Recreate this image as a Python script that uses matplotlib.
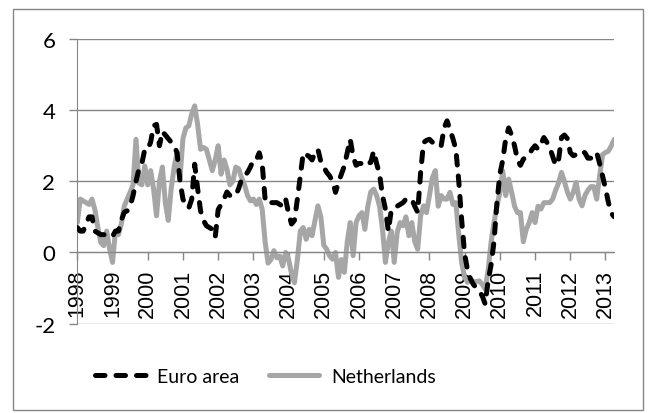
import matplotlib
matplotlib.use("Agg")
import matplotlib.pyplot as plt
from matplotlib.patches import Rectangle

# monthly values, Jan 1998 .. Apr 2013
euro_area = [
    0.7, 0.6, 0.6, 0.8, 1.0, 1.0, 0.6, 0.55, 0.5, 0.5, 0.5, 0.5,
    0.45, 0.6, 0.6, 0.9, 1.13, 1.17, 1.3, 1.6, 2.0, 2.34, 2.5, 2.9,
    2.9, 3.1, 3.56, 3.6, 3.0, 3.4, 3.3, 3.2, 3.1, 3.0, 2.8, 2.0,
    1.5, 1.3, 1.25, 1.5, 2.48, 1.8, 1.17, 0.9, 0.75, 0.7, 0.65, 0.43,
    1.2, 1.35, 1.5, 1.7, 1.6, 1.6, 1.6, 1.8, 2.06, 2.15, 2.25, 2.4,
    2.6, 2.6, 2.8, 2.5, 1.5, 1.36, 1.4, 1.4, 1.4, 1.35, 1.3, 1.5,
    1.1, 0.8, 0.9, 1.5, 2.15, 2.8, 2.75, 2.7, 2.6, 2.8, 2.9, 2.55,
    2.4, 2.25, 2.15, 2.0, 1.69, 1.97, 2.2, 2.43, 2.8, 3.18, 2.7, 2.45,
    2.5, 2.5, 2.43, 2.5, 2.53, 2.85, 2.5, 2.2, 1.6, 1.22, 0.6, 1.2,
    1.25, 1.3, 1.35, 1.4, 1.5, 1.5, 1.5, 1.3, 1.13, 2.25, 3.09, 3.15,
    3.18, 3.1, 3.12, 3.1, 3.0, 3.5, 3.7, 3.45, 3.2, 2.9, 2.0, 0.9,
    -0.05, -0.5, -0.75, -0.9, -1.0, -1.1, -1.22, -1.45, -0.8, -0.35, 0.3, 1.4,
    2.2, 2.6, 3.2, 3.5, 3.3, 3.0, 2.6, 2.45, 2.62, 2.7, 2.76, 2.9,
    3.0, 2.9, 3.05, 3.23, 3.1, 2.95, 2.7, 2.45, 2.6, 3.23, 3.3, 3.2,
    2.81, 2.72, 2.75, 2.81, 2.85, 2.8, 2.65, 2.65, 2.75, 2.81, 2.5, 2.15,
    1.8, 1.4, 1.1, 1.0,
]
netherlands = [
    0.84, 1.5, 1.45, 1.4, 1.35, 1.5, 1.2, 0.7, 0.28, 0.19, 0.6, 0.1,
    -0.28, 0.6, 0.5, 0.8, 1.3, 1.5, 1.69, 1.9, 3.18, 1.95, 1.9, 2.43,
    1.9, 2.3, 1.78, 1.03, 2.0, 2.4, 1.4, 0.9, 1.8, 2.4, 2.8, 2.1,
    3.2, 3.5, 3.56, 3.9, 4.12, 3.6, 2.9, 2.95, 2.9, 2.6, 2.3, 2.6,
    3.0, 2.2, 2.6, 2.34, 1.9, 2.0, 2.4, 2.35, 2.1, 1.9, 1.6, 1.45,
    1.5, 1.35, 1.5, 1.22, 0.3, -0.3, -0.2, 0.05, -0.15, -0.1, -0.38, 0.0,
    -0.19, -0.6, -0.85, -0.2, 0.6, 0.7, 0.37, 0.65, 0.47, 0.9, 1.31, 1.0,
    0.2, 0.09, -0.1, -0.19, 0.0, -0.7, -0.2, -0.56, 0.3, 0.84, -0.09, 0.84,
    1.03, 1.12, 0.65, 1.3, 1.7, 1.78, 1.6, 1.3, 0.65, -0.28, 0.28, 0.6,
    -0.28, 0.56, 0.84, 0.75, 1.0, 0.47, 0.84, 0.3, 0.09, 1.03, 1.31, 1.12,
    1.6, 2.1, 2.3, 1.3, 1.6, 1.5, 1.5, 1.69, 1.35, 1.4, 0.5, -0.3,
    -0.7, -0.84, -0.75, -0.82, -0.82, -0.8, -0.9, -1.03, -0.5, 0.28, 0.84, 1.3,
    1.69, 2.29, 1.6, 2.06, 1.7, 1.3, 1.12, 1.12, 0.3, 0.65, 0.84, 1.12,
    0.84, 1.3, 1.22, 1.4, 1.4, 1.4, 1.5, 1.75, 1.95, 2.25, 2.0, 1.7,
    1.5, 1.69, 1.97, 1.5, 1.31, 1.6, 1.75, 1.85, 1.85, 1.5, 2.15, 2.75,
    2.81, 2.85, 3.0, 3.18,
]
years = list(range(1998, 2014))
y_ticks = [-2, 0, 2, 4, 6]

months = list(range(len(euro_area)))
grid_col = "#868686"

fig = plt.figure(figsize=(6.48, 4.14), dpi=100)
# chart border
fig.patches.append(Rectangle((13 / 648, 1 - 411 / 414), 630 / 648, 401 / 414,
                             transform=fig.transFigure, fill=False,
                             edgecolor=grid_col, linewidth=1.0))

ax = fig.add_axes([77.3 / 648, 1 - 324.6 / 414, 537 / 648, 284.6 / 414])

ax.plot(months, euro_area, color="black", linewidth=3.6,
        linestyle=(0, (1.9, 2.2)), dash_capstyle="round", label="Euro area", zorder=3)
ax.plot(months, netherlands, color="#A6A6A6", linewidth=3.6,
        solid_capstyle="round", label="Netherlands", zorder=2)

ax.set_xlim(0, len(euro_area) - 1)
ax.set_ylim(-2, 6)
ax.set_yticks(y_ticks)
ax.set_yticklabels([str(v) for v in y_ticks])
ax.yaxis.grid(True, color=grid_col, linewidth=1.0)
ax.set_axisbelow(True)

ax.set_xticks([12 * i for i in range(len(years))])
ax.set_xticklabels([str(y) for y in years])

for s in ["top", "right"]:
    ax.spines[s].set_visible(False)
ax.spines["bottom"].set_position(("data", 0))
ax.spines["bottom"].set_color(grid_col)
ax.spines["left"].set_color(grid_col)
ax.tick_params(axis="y", length=5.8, color=grid_col, pad=10, width=1.0)
ax.tick_params(axis="x", length=5.8, color=grid_col, pad=6, width=1.0,
               direction="out", labelrotation=90)

for lab in ax.get_yticklabels():
    lab.set_fontfamily("Lato")
    lab.set_fontsize(16)
for lab in ax.get_xticklabels():
    lab.set_fontfamily("Liberation Sans")
    lab.set_fontsize(15.5)

fig.legend(loc="center left", bbox_to_anchor=(95 / 648, 1 - 377.7 / 414), ncol=2,
           frameon=False, prop={"family": "Lato", "size": 14}, handlelength=2.6,
           handletextpad=0.6, columnspacing=1.5, borderpad=0, borderaxespad=0)

fig.savefig("out.png", dpi=100)
